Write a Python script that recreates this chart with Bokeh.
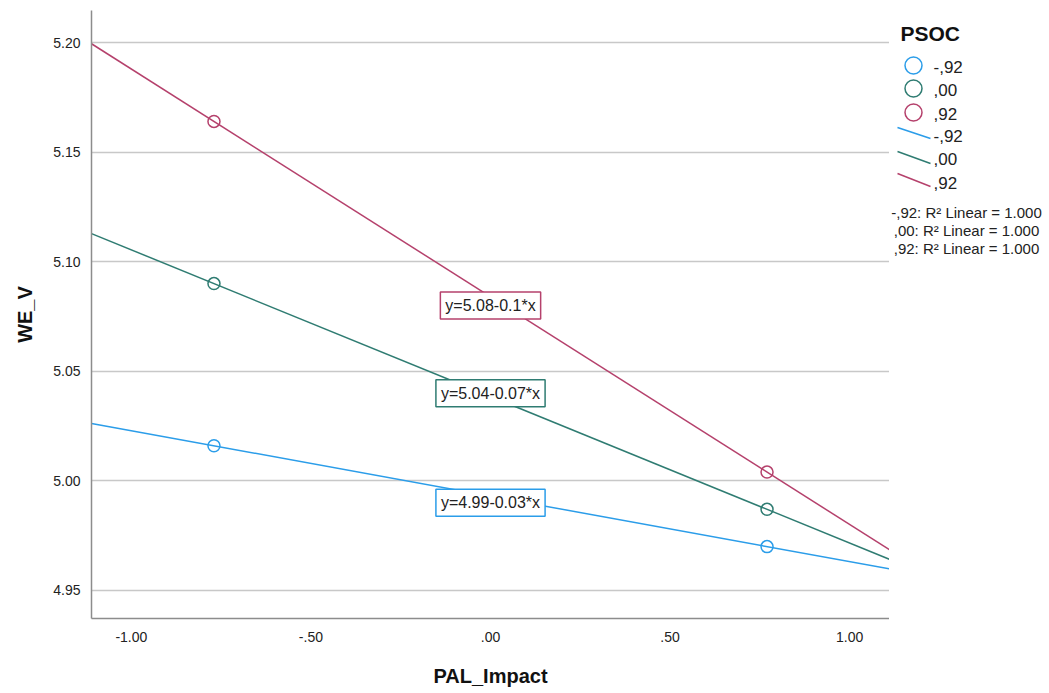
import numpy as np
from bokeh.plotting import figure
from bokeh.layouts import row
from bokeh.models import Range1d, FixedTicker, Label
from bokeh.core.properties import value
from bokeh.embed import file_html
from bokeh.resources import INLINE

# ---- data ----
psoc_labels = ["-,92", ",00", ",92"]
pal_points = [-0.77, 0.77]
we_low = [5.016, 4.970]
we_mid = [5.090, 4.987]
we_high = [5.164, 5.004]
series_values = [we_low, we_mid, we_high]
colors = ["#2b9de9", "#2f7c72", "#b5416c"]

x_ticks = [-1.0, -0.5, 0.0, 0.5, 1.0]
x_tick_labels = ["-1.00", "-.50", ".00", ".50", "1.00"]
y_ticks = [4.95, 5.00, 5.05, 5.10, 5.15, 5.20]
y_tick_labels = ["4.95", "5.00", "5.05", "5.10", "5.15", "5.20"]

FONT = "Liberation Sans"
X0, X1 = -1.111, 1.111
Y0, Y1 = 4.9372, 5.2146
TOP, BOTTOM = 10, 618

p = figure(width=889, height=693, x_range=Range1d(X0, X1), y_range=Range1d(Y0, Y1),
           output_backend="svg", toolbar_location=None,
           min_border_left=91, min_border_right=0, min_border_top=TOP,
           min_border_bottom=693 - BOTTOM)
p.outline_line_color = None
p.background_fill_color = "white"
p.xgrid.visible = False
p.ygrid.grid_line_color = "#c8c8c8"
p.ygrid.grid_line_width = 1.5
p.ygrid.ticker = FixedTicker(ticks=y_ticks)

for ax in (p.xaxis[0], p.yaxis[0]):
    ax.axis_line_color = "#8c8c8c"
    ax.axis_line_width = 1.5
    ax.major_tick_line_color = None
    ax.minor_tick_line_color = None
    ax.major_label_text_font = FONT
    ax.major_label_text_font_size = "14px"
    ax.major_label_text_color = "#222222"
    ax.axis_label_text_font = FONT
    ax.axis_label_text_font_style = "bold"
    ax.axis_label_text_font_size = "20px"
    ax.axis_label_text_color = "#111111"

p.xaxis.ticker = FixedTicker(ticks=x_ticks)
p.xaxis.major_label_overrides = {t: l for t, l in zip(x_ticks, x_tick_labels)}
p.yaxis.ticker = FixedTicker(ticks=y_ticks)
p.yaxis.major_label_overrides = {t: l for t, l in zip(y_ticks, y_tick_labels)}
p.xaxis.axis_label = "PAL_Impact"
p.yaxis.axis_label = "WE_V"
p.xaxis.major_label_standoff = 7
p.xaxis.axis_label_standoff = 20
p.yaxis.major_label_standoff = 5
p.yaxis.axis_label_standoff = 14

xs = np.array(pal_points)
for vals, col in zip(series_values, colors):
    m, b = np.polyfit(xs, np.array(vals), 1)
    p.line([X0, X1], [b + m * X0, b + m * X1], line_color=col, line_width=1.5)
    p.scatter(pal_points, vals, size=12, marker="circle", fill_color=None,
              line_color=col, line_width=1.5)
    txt = f"y={b:.2f}-{round(abs(m), 2):g}*x"
    p.add_layout(Label(x=0, y=round(b, 2), text=txt, text_align="center",
                       text_baseline="middle", text_font=FONT, text_font_size="16px",
                       text_color="#222222", background_fill_color="white",
                       border_line_color=col, border_line_width=1.5, padding=5))

# ---- legend panel (coordinates in page pixels; frame aligned with main frame) ----
LX0, LX1 = 889, 1045
leg = figure(width=LX1 - LX0, height=693, x_range=Range1d(LX0, LX1),
             y_range=Range1d(BOTTOM, TOP), output_backend="svg", toolbar_location=None,
             min_border_left=0, min_border_right=0, min_border_top=TOP,
             min_border_bottom=693 - BOTTOM)
leg.axis.visible = False
leg.grid.visible = False
leg.outline_line_color = None

leg.text(x=[900], y=[33], text=["PSOC"], text_font=value(FONT), text_font_size="21px",
         text_font_style="bold", text_color="#111111", text_baseline="middle")
circ_y = [65, 88, 112]
line_y0 = [127, 151, 173]
line_y1 = [138, 163, 186]
text_line_y = [135, 158, 182]
r2_y = [212, 230, 248]
r2_text = [f"{lab}: R\u00b2 Linear = 1.000" for lab in psoc_labels]

leg.scatter([913] * 3, circ_y, size=17, marker="circle", fill_color=None,
            line_color=colors, line_width=1.5)
leg.text(x=[933] * 3, y=[c + 1 for c in circ_y], text=psoc_labels, text_font=value(FONT),
         text_font_size="17px", text_color="#222222", text_baseline="middle")
leg.segment(x0=[897] * 3, y0=line_y0, x1=[930] * 3, y1=line_y1, line_color=colors,
            line_width=1.5)
leg.text(x=[933] * 3, y=text_line_y, text=psoc_labels, text_font=value(FONT),
         text_font_size="17px", text_color="#222222", text_baseline="middle")
leg.text(x=[966] * 3, y=r2_y, text=r2_text, text_font=value(FONT), text_font_size="15px",
         text_color="#222222", text_baseline="middle", text_align="center")

layout = row(p, leg, spacing=0)
open("out.html", "w").write(file_html(layout, INLINE))
